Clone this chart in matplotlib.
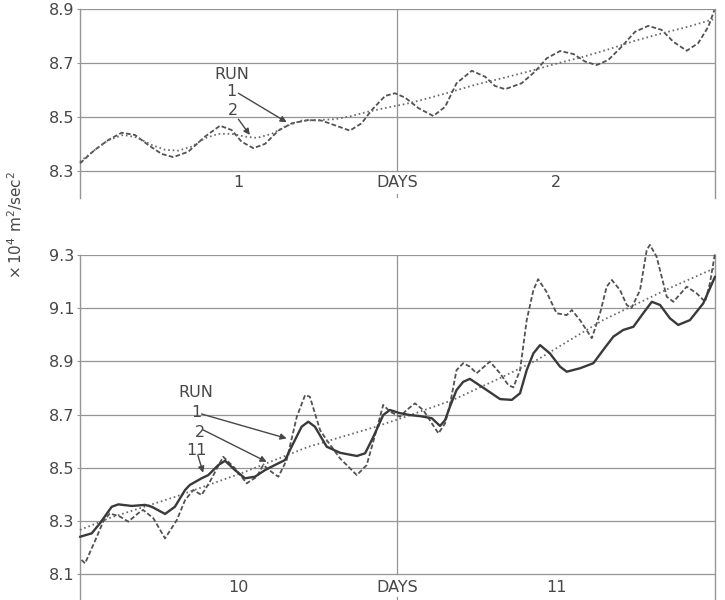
import matplotlib
matplotlib.use("Agg")
import matplotlib.pyplot as plt

# --- early period: days 1-2 ---
early_t1 = [0.000, 0.047, 0.089, 0.131, 0.173, 0.215, 0.257, 0.294, 0.341, 0.394,
            0.441, 0.478, 0.509, 0.546, 0.583, 0.625, 0.667, 0.719, 0.761, 0.814,
            0.850, 0.887, 0.919, 0.961, 0.992, 1.024, 1.066, 1.113, 1.150, 1.186,
            1.234, 1.276, 1.307, 1.339, 1.391, 1.433, 1.470, 1.512, 1.554, 1.591,
            1.627, 1.664, 1.706, 1.748, 1.790, 1.832, 1.869, 1.911, 1.947, 1.979,
            1.998]
early_run1 = [8.328, 8.378, 8.414, 8.441, 8.433, 8.396, 8.363, 8.351, 8.371, 8.427,
              8.467, 8.451, 8.408, 8.384, 8.400, 8.449, 8.476, 8.488, 8.486, 8.464,
              8.449, 8.476, 8.525, 8.577, 8.587, 8.571, 8.532, 8.503, 8.537, 8.624,
              8.670, 8.648, 8.614, 8.602, 8.624, 8.667, 8.716, 8.743, 8.732, 8.704,
              8.691, 8.710, 8.759, 8.814, 8.836, 8.821, 8.777, 8.744, 8.772, 8.833,
              8.894]

early_t2 = [0.000, 0.047, 0.089, 0.136, 0.179, 0.226, 0.268, 0.310, 0.352, 0.394,
            0.436, 0.478, 0.520, 0.557, 0.604, 0.646, 0.698, 0.751, 0.803, 0.856,
            0.908, 0.971, 1.024, 1.076, 1.160, 1.244, 1.328, 1.412, 1.496, 1.580,
            1.664, 1.748, 1.832, 1.916, 1.994]
early_run2 = [8.334, 8.378, 8.414, 8.433, 8.424, 8.396, 8.378, 8.375, 8.390, 8.421,
              8.437, 8.437, 8.427, 8.422, 8.437, 8.464, 8.486, 8.488, 8.491, 8.503,
              8.519, 8.535, 8.547, 8.562, 8.589, 8.618, 8.642, 8.667, 8.695, 8.720,
              8.749, 8.781, 8.808, 8.833, 8.860]

# --- late period: days 10-11 ---
late_t1 = [9.005, 9.016, 9.053, 9.073, 9.094, 9.126, 9.152, 9.189, 9.199, 9.231,
           9.268, 9.305, 9.331, 9.357, 9.383, 9.409, 9.451, 9.488, 9.525, 9.557,
           9.577, 9.609, 9.625, 9.651, 9.683, 9.709, 9.724, 9.756, 9.777, 9.819,
           9.872, 9.903, 9.934, 9.955, 9.976, 10.008, 10.029, 10.055, 10.081, 10.108,
           10.129, 10.150, 10.165, 10.186, 10.207, 10.228, 10.249, 10.291, 10.323, 10.349,
           10.365, 10.386, 10.407, 10.428, 10.443, 10.469, 10.501, 10.533, 10.549, 10.575,
           10.612, 10.638, 10.659, 10.675, 10.701, 10.722, 10.737, 10.764, 10.785, 10.795,
           10.816, 10.848, 10.869, 10.911, 10.942, 10.969, 10.984, 11.000]
late_run1 = [8.153, 8.140, 8.240, 8.297, 8.328, 8.316, 8.297, 8.334, 8.341, 8.310,
             8.234, 8.303, 8.378, 8.416, 8.397, 8.447, 8.541, 8.498, 8.441, 8.466,
             8.510, 8.479, 8.466, 8.529, 8.692, 8.773, 8.767, 8.642, 8.604, 8.535,
             8.472, 8.510, 8.642, 8.736, 8.711, 8.692, 8.717, 8.742, 8.717, 8.667,
             8.629, 8.667, 8.736, 8.867, 8.893, 8.880, 8.855, 8.899, 8.855, 8.811,
             8.802, 8.867, 9.055, 9.168, 9.209, 9.162, 9.081, 9.074, 9.093, 9.055,
             8.987, 9.081, 9.181, 9.206, 9.168, 9.112, 9.100, 9.168, 9.319, 9.338,
             9.294, 9.143, 9.124, 9.181, 9.156, 9.124, 9.194, 9.306]

late_t2 = [9.000, 9.094, 9.299, 9.510, 9.718, 9.929, 10.024, 10.175, 10.323, 10.439,
           10.647, 10.858, 11.000]
late_run2 = [8.266, 8.311, 8.390, 8.480, 8.578, 8.653, 8.691, 8.755, 8.837, 8.905,
             9.055, 9.176, 9.251]

late_t11 = [9.000, 9.037, 9.063, 9.100, 9.121, 9.163, 9.205, 9.226, 9.268, 9.299,
            9.331, 9.346, 9.383, 9.404, 9.436, 9.457, 9.488, 9.520, 9.551, 9.583,
            9.614, 9.646, 9.672, 9.698, 9.719, 9.740, 9.777, 9.819, 9.872, 9.898,
            9.924, 9.955, 9.976, 10.008, 10.039, 10.071, 10.108, 10.134, 10.150, 10.165,
            10.186, 10.207, 10.228, 10.281, 10.323, 10.360, 10.386, 10.407, 10.428, 10.449,
            10.480, 10.512, 10.533, 10.575, 10.617, 10.648, 10.680, 10.711, 10.743, 10.774,
            10.801, 10.827, 10.858, 10.884, 10.921, 10.963, 11.000]
late_run11 = [8.240, 8.253, 8.291, 8.353, 8.362, 8.356, 8.360, 8.353, 8.326, 8.353,
              8.416, 8.435, 8.460, 8.472, 8.510, 8.526, 8.491, 8.460, 8.466, 8.491,
              8.510, 8.529, 8.592, 8.654, 8.673, 8.654, 8.579, 8.556, 8.544, 8.554,
              8.616, 8.698, 8.717, 8.705, 8.698, 8.694, 8.686, 8.657, 8.679, 8.729,
              8.792, 8.823, 8.834, 8.792, 8.758, 8.755, 8.780, 8.867, 8.930, 8.961,
              8.930, 8.880, 8.861, 8.874, 8.893, 8.943, 8.993, 9.018, 9.030, 9.081,
              9.124, 9.112, 9.062, 9.037, 9.055, 9.118, 9.218]

early_yticks = [8.3, 8.5, 8.7, 8.9]
late_yticks = [8.1, 8.3, 8.5, 8.7, 8.9, 9.1, 9.3]
early_days = ["1", "DAYS", "2"]
late_days = ["10", "DAYS", "11"]

ink = "#474747"
grid = "#959595"
plt.rcParams["font.family"] = "DejaVu Sans"

fig = plt.figure(figsize=(7.25, 6.0), dpi=100)
fig.patch.set_facecolor("white")

ax1 = fig.add_axes([0.1103, 0.670, 0.8759, 0.3158])
ax2 = fig.add_axes([0.1103, -0.001, 0.8759, 0.576])


def frame(ax, x0, ylo, ticks, names, label_y):
    ax.set_xlim(x0, x0 + 2)
    ax.set_ylim(ylo, ticks[-1])
    for side in ["top", "bottom"]:
        ax.spines[side].set_visible(False)
    for side in ["left", "right"]:
        ax.spines[side].set_color(grid)
        ax.spines[side].set_linewidth(1.0)
    ax.set_xticks([])
    ax.set_yticks(ticks)
    ax.set_yticklabels([f"{t:.1f}" for t in ticks])
    ax.tick_params(axis="y", length=2, color=grid, labelsize=11.5,
                   labelcolor=ink, pad=2)
    for t in ticks:
        ax.axhline(t, color=grid, lw=0.9, zorder=1)
    ax.plot([x0 + 1, x0 + 1], [ticks[0], ticks[-1]], color=grid, lw=0.9, zorder=1)
    ax.plot([x0 + 1, x0 + 1], [ylo, ylo + 0.015], color=grid, lw=0.9, zorder=1)
    for x, s in zip([x0 + 0.5, x0 + 1, x0 + 1.5], names):
        ax.text(x, label_y, s, ha="center", va="center", fontsize=11.5, color=ink)


frame(ax1, 0, 8.2, early_yticks, early_days, 8.256)
frame(ax2, 9, 8.0, late_yticks, late_days, 8.051)

dash = dict(color="#525252", lw=1.3, dashes=(2.6, 1.3), clip_on=False, zorder=3,
            dash_joinstyle="round")
dots = dict(color="#6a6a6a", lw=1.3, dashes=(0.9, 1.6), clip_on=False, zorder=3)

ax1.plot(early_t1, early_run1, **dash)
ax1.plot(early_t2, early_run2, **dots)

ax2.plot(late_t1, late_run1, **dash)
ax2.plot(late_t2, late_run2, **dots)
ax2.plot(late_t11, late_run11, color="#3a3a3a", lw=1.7, clip_on=False, zorder=4,
         solid_joinstyle="round", solid_capstyle="round")

arrow = dict(arrowstyle="-|>", color=ink, lw=1.0, shrinkA=0, shrinkB=0,
             mutation_scale=9)

# run labels, early panel
ax1.text(0.479, 8.658, "RUN", ha="center", va="center", fontsize=11.5, color=ink)
ax1.text(0.478, 8.592, "1", ha="center", va="center", fontsize=11.5, color=ink)
ax1.text(0.482, 8.525, "2", ha="center", va="center", fontsize=11.5, color=ink)
ax1.annotate("", xy=(0.651, 8.480), xytext=(0.499, 8.587), arrowprops=arrow)
ax1.annotate("", xy=(0.535, 8.433), xytext=(0.499, 8.491), arrowprops=arrow)

# run labels, late panel
ax2.text(9.365, 8.781, "RUN", ha="center", va="center", fontsize=11.5, color=ink)
ax2.text(9.368, 8.706, "1", ha="center", va="center", fontsize=11.5, color=ink)
ax2.text(9.378, 8.634, "2", ha="center", va="center", fontsize=11.5, color=ink)
ax2.text(9.368, 8.566, "11", ha="center", va="center", fontsize=11.5, color=ink)
ax2.annotate("", xy=(9.651, 8.610), xytext=(9.383, 8.702), arrowprops=arrow)
ax2.annotate("", xy=(9.588, 8.522), xytext=(9.388, 8.642), arrowprops=arrow)
ax2.annotate("", xy=(9.388, 8.481), xytext=(9.371, 8.548), arrowprops=arrow)

fig.text(0.021, 0.625, r"$\times\,10^4\ \mathrm{m^2/sec^2}$", rotation=90,
         ha="center", va="center", fontsize=11, color=ink)

fig.savefig("out.png", dpi=100, facecolor="white")
